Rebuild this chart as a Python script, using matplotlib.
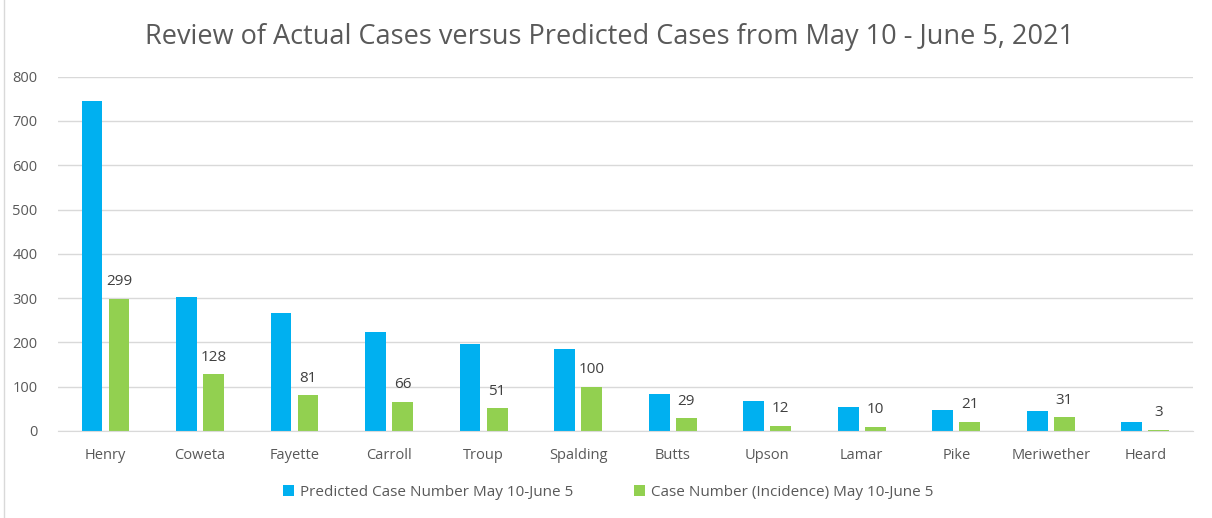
import matplotlib.pyplot as plt
import numpy as np

counties = ["Henry", "Coweta", "Fayette", "Carroll", "Troup", "Spalding",
            "Butts", "Upson", "Lamar", "Pike", "Meriwether", "Heard"]
predicted = [746, 303, 267, 224, 196, 185, 84, 67, 54, 48, 44, 21]
actual = [299, 128, 81, 66, 51, 100, 29, 12, 10, 21, 31, 3]

plt.rcParams['font.family'] = ['Open Sans', 'DejaVu Sans']
grey = "#595959"

fig = plt.figure(figsize=(12.12, 5.18), dpi=100)
ax = fig.add_axes([0.048, 0.168, 0.936, 0.684])

x = np.arange(len(counties))
w = 0.22
ax.bar(x - 0.143, predicted, w, color="#00b0f0", label="Predicted Case Number May 10-June 5")
bars = ax.bar(x + 0.143, actual, w, color="#92d050", label="Case Number (Incidence) May 10-June 5")
for b, v in zip(bars, actual):
    ax.text(b.get_x() + b.get_width() / 2, v + 21, str(v), ha="center", va="bottom",
            fontsize=11, color="#404040")

ax.set_xlim(-0.5, len(counties) - 0.5)
ax.set_ylim(0, 800)
ax.set_yticks(range(0, 801, 100))
ax.set_xticks(x)
ax.set_xticklabels(counties)
ax.tick_params(axis="both", length=0, colors=grey, labelsize=10.5)
ax.tick_params(axis="x", pad=12)
ax.tick_params(axis="y", pad=15)
ax.grid(axis="y", color="#d9d9d9", linewidth=1)
ax.set_axisbelow(True)
for s in ["top", "right", "left"]:
    ax.spines[s].set_visible(False)
ax.spines["bottom"].set_color("#d9d9d9")

fig.text(0.503, 0.928, "Review of Actual Cases versus Predicted Cases from May 10 - June 5, 2021",
         ha="center", va="center", fontsize=19.5, color=grey)
fig.legend(loc="center", bbox_to_anchor=(0.502, 0.05), ncol=2, frameon=False,
           fontsize=11, labelcolor=grey, handlelength=0.7, handleheight=0.7,
           handletextpad=0.4, columnspacing=4)

# thin border on the left, as in the screenshot
fig.add_artist(plt.Line2D([0.003, 0.003], [0, 1], color="#d9d9d9", linewidth=1))

fig.savefig("out.png")
